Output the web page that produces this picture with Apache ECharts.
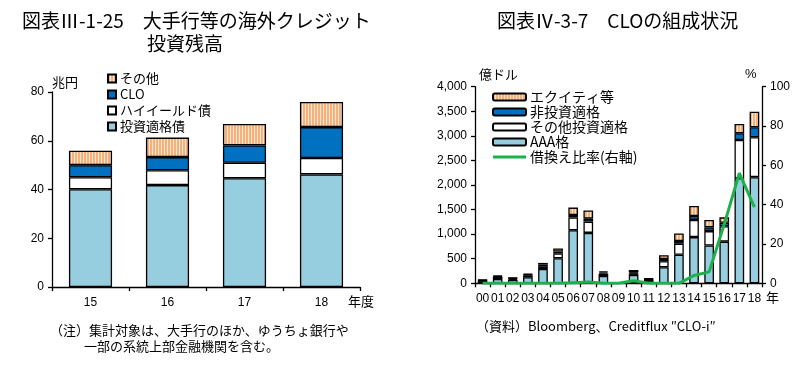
<!DOCTYPE html>
<html><head><meta charset="utf-8">
<script src="https://cdn.jsdelivr.net/npm/echarts@6/dist/echarts.min.js"></script>
<style>html,body{margin:0;padding:0;background:#fff}#c{width:800px;height:365px}</style>
</head><body><div id="c"></div>
<script>
// Left chart data (兆円)
const leftCats = ['15', '16', '17', '18'];
const invGrade = [40.1, 41.8, 44.6, 46.2];
const highYield = [4.9, 6.1, 6.4, 6.7];
const cloL = [5.0, 5.4, 7.1, 12.7];
const otherL = [5.9, 8.0, 8.8, 10.3];
const leftYTicks = [0, 20, 40, 60, 80];

// Right chart data (億ドル, %)
const years = ['00','01','02','03','04','05','06','07','08','09','10','11','12','13','14','15','16','17','18'];
const aaa = [45, 88, 68, 122, 290, 510, 1078, 1025, 149, 0, 170, 45, 328, 580, 940, 770, 847, 2136, 2160];
const otherInv = [12, 40, 25, 40, 55, 95, 260, 230, 45, 0, 30, 30, 120, 225, 350, 292, 315, 780, 810];
const nonInv = [8, 15, 10, 15, 35, 40, 52, 60, 25, 0, 20, 12, 45, 55, 80, 75, 70, 136, 204];
const equity = [8, 15, 10, 15, 35, 65, 150, 165, 25, 0, 50, 12, 80, 155, 205, 150, 110, 190, 317];
const refiRatio = [0, 0, 0, 0, 0, 0, 0.3, 0.6, 0, 0, 1.3, 0, 0, 0, 4, 5.8, 30, 56, 38.7];

function stripe() {
  const c = document.createElement('canvas');
  c.width = 3; c.height = 4;
  const g = c.getContext('2d');
  g.fillStyle = '#FDE6D2'; g.fillRect(0, 0, 3, 4);
  g.fillStyle = '#F6B07A'; g.fillRect(0, 0, 2, 4);
  return c;
}
const pat = { image: stripe(), repeat: 'repeat' };
const LB = '#96CEDF', BL = '#0070C0';
const jp = '"Noto Sans CJK JP", sans-serif';
const num = '"Liberation Sans", Arial, sans-serif';
const border = { borderColor: '#000', borderWidth: 1.3 };

const chart = echarts.init(document.getElementById('c'), null, { renderer: 'canvas' });
const axLine = { show: true, lineStyle: { color: '#000', width: 1.3 } };
const axTick = { show: true, inside: false, length: 4, lineStyle: { color: '#000', width: 1.3 } };

chart.setOption({
  animation: false,
  backgroundColor: '#fff',
  textStyle: { fontFamily: jp },
  grid: [
    { left: 52, top: 92, width: 308, height: 195 },
    { left: 475, top: 86.7, width: 287, height: 196.6 }
  ],
  xAxis: [
    { gridIndex: 0, type: 'category', data: leftCats, axisLine: axLine, axisTick: axTick,
      axisLabel: { color: '#000', fontFamily: num, fontSize: 12, margin: 10 } },
    { gridIndex: 1, type: 'category', data: years, axisLine: axLine, axisTick: axTick,
      axisLabel: { color: '#000', fontFamily: num, fontSize: 12, margin: 9, interval: 0 } }
  ],
  yAxis: [
    { gridIndex: 0, type: 'value', min: leftYTicks[0], max: leftYTicks[leftYTicks.length - 1], interval: 20,
      axisLine: axLine, axisTick: axTick, splitLine: { show: false },
      axisLabel: { color: '#000', fontFamily: num, fontSize: 12, margin: 8 } },
    { gridIndex: 1, type: 'value', min: 0, max: 4000, interval: 500,
      axisLine: axLine, axisTick: axTick, splitLine: { show: false },
      axisLabel: { color: '#000', fontFamily: num, fontSize: 12, margin: 8,
        formatter: v => v.toLocaleString('en-US') } },
    { gridIndex: 1, type: 'value', position: 'right', min: 0, max: 100, interval: 20,
      axisLine: axLine, axisTick: axTick, splitLine: { show: false },
      axisLabel: { color: '#000', fontFamily: num, fontSize: 12, margin: 8 } }
  ],
  legend: [
    { left: 102, top: 67, orient: 'vertical', itemGap: 3, itemWidth: 8, itemHeight: 8,
      icon: 'rect', textStyle: { fontSize: 13, color: '#000', fontFamily: jp, padding: [0, 0, 0, -1] },
      data: ['その他', 'CLO', 'ハイイールド債', '投資適格債'] },
    { left: 487, top: 85, orient: 'vertical', itemGap: 1, itemWidth: 33, itemHeight: 7,
      textStyle: { fontSize: 14, color: '#000', fontFamily: jp, padding: [0, 0, 0, -1] },
      data: ['エクイティ等', '非投資適格', 'その他投資適格', 'AAA格', { name: '借換え比率(右軸)', icon: 'path://M0,0L33,0L33,3L0,3Z' }] }
  ],
  series: [
    { name: '投資適格債', type: 'bar', stack: 'l', xAxisIndex: 0, yAxisIndex: 0, barWidth: '56%', data: invGrade, itemStyle: Object.assign({ color: LB }, border) },
    { name: 'ハイイールド債', type: 'bar', stack: 'l', xAxisIndex: 0, yAxisIndex: 0, data: highYield, itemStyle: Object.assign({ color: '#fff' }, border) },
    { name: 'CLO', type: 'bar', stack: 'l', xAxisIndex: 0, yAxisIndex: 0, data: cloL, itemStyle: Object.assign({ color: BL }, border) },
    { name: 'その他', type: 'bar', stack: 'l', xAxisIndex: 0, yAxisIndex: 0, data: otherL, itemStyle: Object.assign({ color: pat }, border) },

    { name: 'AAA格', type: 'bar', stack: 'r', xAxisIndex: 1, yAxisIndex: 1, barWidth: '64%', data: aaa, itemStyle: Object.assign({ color: LB }, border) },
    { name: 'その他投資適格', type: 'bar', stack: 'r', xAxisIndex: 1, yAxisIndex: 1, data: otherInv, itemStyle: Object.assign({ color: '#fff' }, border) },
    { name: '非投資適格', type: 'bar', stack: 'r', xAxisIndex: 1, yAxisIndex: 1, data: nonInv, itemStyle: Object.assign({ color: BL }, border) },
    { name: 'エクイティ等', type: 'bar', stack: 'r', xAxisIndex: 1, yAxisIndex: 1, data: equity, itemStyle: Object.assign({ color: pat }, border) },
    { name: '借換え比率(右軸)', type: 'line', xAxisIndex: 1, yAxisIndex: 2, data: refiRatio, symbol: 'none',
      lineStyle: { color: '#1DB14B', width: 3 }, itemStyle: { color: '#1DB14B' }, z: 5 }
  ],
  graphic: [
    { type: 'text', left: 22, top: 11, style: { text: '図表Ⅲ-1-25　大手行等の海外クレジット', font: '19px ' + jp, fill: '#000' } },
    { type: 'text', left: 147, top: 34, style: { text: '投資残高', font: '19px ' + jp, fill: '#000' } },
    { type: 'text', left: 497, top: 11, style: { text: '図表Ⅳ-3-7　CLOの組成状況', font: '19px ' + jp, fill: '#000' } },
    { type: 'text', left: 52, top: 76, style: { text: '兆円', font: '13px ' + jp, fill: '#000' } },
    { type: 'text', left: 348, top: 295, style: { text: '年度', font: '13px ' + jp, fill: '#000' } },
    { type: 'text', left: 479, top: 68, style: { text: '億ドル', font: '13px ' + jp, fill: '#000' } },
    { type: 'text', left: 745, top: 68, style: { text: '%', font: '13px ' + num, fill: '#000' } },
    { type: 'text', left: 766, top: 291, style: { text: '年', font: '13px ' + jp, fill: '#000' } },
    { type: 'text', left: 50, top: 324, style: { text: '（注）集計対象は、大手行のほか、ゆうちょ銀行や', font: '13px ' + jp, fill: '#000' } },
    { type: 'text', left: 84, top: 340, style: { text: '一部の系統上部金融機関を含む。', font: '13px ' + jp, fill: '#000' } },
    { type: 'text', left: 476, top: 320, style: { text: '（資料）Bloomberg、Creditflux ″CLO-i″', font: '13px ' + jp, fill: '#000' } }
  ]
});
</script></body></html>
